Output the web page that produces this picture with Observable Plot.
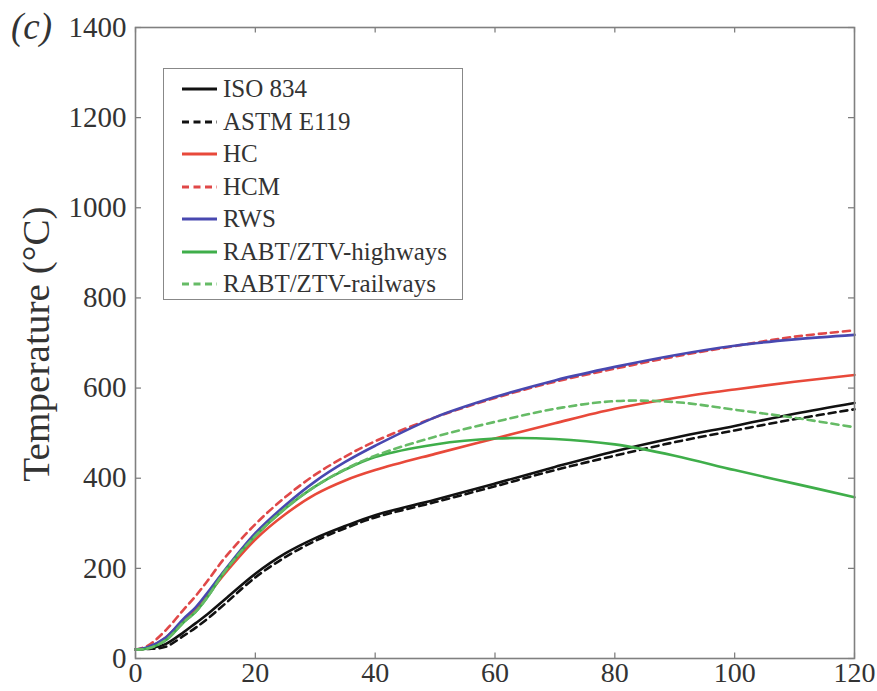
<!DOCTYPE html>
<html>
<head>
<meta charset="utf-8">
<script src="https://cdn.jsdelivr.net/npm/d3@7"></script>
<script src="https://cdn.jsdelivr.net/npm/@observablehq/plot@0.6"></script>
<style>
  html, body { margin: 0; padding: 0; background: #fff; }
  #wrap { position: relative; width: 877px; height: 691px; font-family: "Liberation Serif", "Times New Roman", serif; }
  #legend { position: absolute; left: 163px; top: 68px; width: 298px; height: 230px; border: 1.5px solid #888; background: #fff; box-sizing: content-box; }
  .row { position: absolute; left: 0; height: 32px; display: flex; align-items: center; }
  .row svg { margin-left: 18px; }
  .row span { margin-left: 6px; font-size: 25px; color: #333; }
  #panel { position: absolute; left: 11px; top: 7px; font-style: italic; font-size: 37px; line-height: 40px; color: #333; }
  #ylab { position: absolute; left: 36px; top: 344px; transform: translate(-50%, -50%) rotate(-90deg) scaleX(1.06); white-space: nowrap; font-size: 37px; color: #333; }
  #chart svg text { font-family: "Liberation Serif", "Times New Roman", serif; }
</style>
</head>
<body>
<div id="wrap">
  <div id="chart"></div>
  <div id="panel">(c)</div>
  <div id="ylab">Temperature (°C)</div>
  <div id="legend"></div>
</div>
<script>
const times = [0, 2, 5, 8, 10, 12, 15, 20, 25, 30, 35, 40, 50, 60, 70, 80, 90, 100, 110, 120];

const iso834   = [20, 22, 32, 58, 78, 98, 132, 188, 233, 267, 294, 318, 352, 388, 425, 460, 490, 516, 543, 567];
const astmE119 = [20, 21, 26, 50, 68, 88, 122, 180, 225, 261, 289, 313, 347, 382, 418, 450, 480, 506, 531, 553];
const hc       = [20, 24, 46, 85, 110, 140, 190, 264, 320, 364, 395, 418, 454, 488, 522, 554, 578, 597, 614, 629];
const hcm      = [20, 28, 62, 108, 138, 172, 225, 298, 358, 408, 448, 482, 535, 578, 614, 643, 670, 693, 714, 728];
const rws      = [20, 25, 46, 88, 113, 146, 198, 278, 340, 393, 436, 472, 535, 580, 617, 647, 673, 694, 708, 718];
const rabtHigh = [20, 22, 40, 80, 103, 136, 195, 272, 333, 382, 419, 447, 475, 488, 487, 475, 450, 418, 388, 358];
const rabtRail = [20, 22, 40, 80, 103, 136, 195, 272, 333, 382, 420, 450, 492, 525, 554, 571, 569, 552, 534, 513];

const seriesNames = ["ISO 834", "ASTM E119", "HC", "HCM", "RWS", "RABT/ZTV-highways", "RABT/ZTV-railways"];
const seriesValues = [iso834, astmE119, hc, hcm, rws, rabtHigh, rabtRail];
const seriesColors = ["#111111", "#111111", "#e8493a", "#e04848", "#4848b0", "#3fae4a", "#66bb66"];
const seriesDashed = [false, true, false, true, false, false, true];

const xTicks = [0, 20, 40, 60, 80, 100, 120];
const yTicks = [0, 200, 400, 600, 800, 1000, 1200, 1400];

const rows = [];
seriesNames.forEach((name, i) => {
  times.forEach((t, j) => rows.push({series: name, t, T: seriesValues[i][j]}));
});

const lineMarks = seriesNames.map((name, i) =>
  Plot.line(rows.filter(d => d.series === name), {
    x: "t", y: "T", stroke: seriesColors[i], strokeWidth: 2.6,
    strokeDasharray: seriesDashed[i] ? "7,5" : null, curve: "catmull-rom"
  })
);

const chart = Plot.plot({
  width: 877,
  height: 691,
  marginLeft: 135,
  marginRight: 23,
  marginTop: 27,
  marginBottom: 33,
  style: { fontFamily: "Liberation Serif, serif", fontSize: "28px", color: "#333", background: "#fff" },
  x: { domain: [0, 120] },
  y: { domain: [0, 1400] },
  marks: [
    ...lineMarks,
    Plot.ruleX(xTicks, { y1: 0, y2: 12, stroke: "#777", strokeWidth: 1.2 }),
    Plot.ruleX(xTicks, { y1: 1388, y2: 1400, stroke: "#777", strokeWidth: 1.2 }),
    Plot.ruleY(yTicks, { x1: 0, x2: 1, stroke: "#777", strokeWidth: 1.2 }),
    Plot.ruleY(yTicks, { x1: 119, x2: 120, stroke: "#777", strokeWidth: 1.2 }),
    Plot.frame({ stroke: "#808080", strokeWidth: 1.6 }),
    Plot.axisX({ ticks: xTicks, tickSize: 0, tickPadding: 4, label: null, fontSize: 28 }),
    Plot.axisY({ ticks: yTicks, tickSize: 0, tickPadding: 9, label: null, fontSize: 29, tickFormat: d => String(d) })
  ]
});
document.getElementById("chart").appendChild(chart);

// legend
const legend = document.getElementById("legend");
seriesNames.forEach((name, i) => {
  const row = document.createElement("div");
  row.className = "row";
  row.style.top = (4 + i * 32.5) + "px";
  const dash = seriesDashed[i] ? 'stroke-dasharray="7,4.5"' : "";
  row.innerHTML = `<svg width="35" height="8"><line x1="0" y1="4" x2="35" y2="4" stroke="${seriesColors[i]}" stroke-width="3" ${dash}/></svg><span>${name}</span>`;
  legend.appendChild(row);
});
</script>
</body>
</html>
